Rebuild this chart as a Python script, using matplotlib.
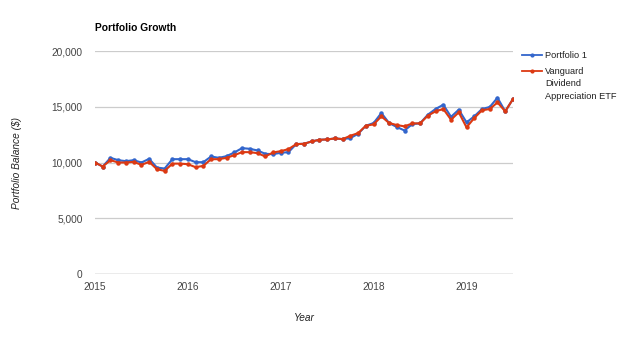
import numpy as np
import matplotlib.pyplot as plt
from matplotlib.lines import Line2D

plt.rcParams['font.family'] = ['Liberation Sans', 'DejaVu Sans']

# monthly balances, Jan 2015 .. Jul 2019
portfolio1 = [10000, 9640, 10420, 10210, 10120, 10210, 10000, 10330, 9550, 9460,
              10300, 10300, 10300, 10030, 10030, 10540, 10420, 10570, 10900, 11290,
              11230, 11080, 10780, 10750, 10870, 10930, 11650, 11680, 11890, 12040,
              12070, 12160, 12100, 12190, 12580, 13300, 13540, 14440, 13540, 13180,
              12870, 13450, 13510, 14290, 14800, 15180, 14100, 14740, 13600, 14140,
              14800, 14980, 15810, 14590, 15690]
vanguard = [10000, 9640, 10210, 10000, 10000, 10060, 9790, 10060, 9400, 9250,
            9900, 9900, 9850, 9580, 9700, 10300, 10300, 10420, 10660, 10930,
            10930, 10840, 10540, 10900, 11020, 11200, 11650, 11680, 11890, 12040,
            12070, 12160, 12100, 12400, 12640, 13300, 13420, 14140, 13540, 13360,
            13240, 13510, 13510, 14200, 14590, 14800, 13840, 14500, 13150, 13990,
            14680, 14800, 15390, 14590, 15690]
series_names = ['Portfolio 1', 'Vanguard\nDividend\nAppreciation ETF']
colors = ['#3366CC', '#DC3912']
years = [2015, 2016, 2017, 2018, 2019]
yticks = [0, 5000, 10000, 15000, 20000]

x = 2015 + np.arange(len(portfolio1)) / 12.0

fig = plt.figure(figsize=(6.4, 3.39), dpi=100)
ax = fig.add_axes([0.1484, 0.1917, 0.6531, 0.6578])

for vals, c, z in zip([portfolio1, vanguard], colors, [3, 4]):
    ax.plot(x, vals, color=c, lw=1.5, marker='o', ms=2.2, zorder=z)

ax.set_xlim(2015, x[-1])
ax.set_ylim(0, 20000)
ax.set_yticks(yticks)
ax.set_yticklabels(['{:,}'.format(v) for v in yticks])
ax.set_xticks(years)
ax.set_xticklabels([str(y) for y in years])
ax.tick_params(length=0, labelsize=7.3, colors='#444444')
ax.tick_params(axis='y', pad=9)
ax.tick_params(axis='x', pad=6)
for v in yticks[1:]:
    ax.axhline(v, color='#CCCCCC', lw=0.9, zorder=1)
ax.axhline(0, color='#666666', lw=0.9, zorder=2)
for s in ax.spines.values():
    s.set_visible(False)

fig.text(95 / 640, 1 - 28 / 339, 'Portfolio Growth', fontsize=7.4, fontweight='bold',
         ha='left', va='center')
fig.text(17 / 640, 1 - 163 / 339, 'Portfolio Balance ($)', fontsize=7.3, style='italic',
         rotation=90, ha='center', va='center', color='#222222')
fig.text(304 / 640, 1 - 318 / 339, 'Year', fontsize=7.3, style='italic',
         ha='center', va='center', color='#222222')

# legend on the right, handle aligned with the first text line
leg_y = [55, 71]
for name, c, yy in zip(series_names, colors, leg_y):
    fy = 1 - yy / 339
    fig.add_artist(Line2D([522 / 640, 542 / 640], [fy, fy], color=c, lw=1.3,
                          transform=fig.transFigure))
    fig.add_artist(Line2D([532 / 640], [fy], color=c, marker='o', ms=2.0,
                          transform=fig.transFigure))
    fig.text(545 / 640, fy + 4.5 / 339, name, fontsize=6.7, ha='left', va='top',
             color='#222222', linespacing=1.55)

fig.savefig('out.png', dpi=100)
